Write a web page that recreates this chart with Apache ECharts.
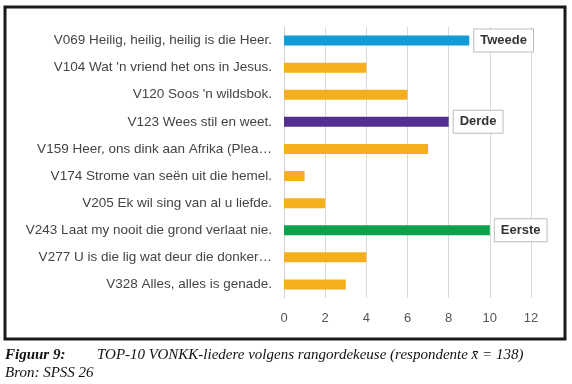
<!DOCTYPE html>
<html>
<head>
<meta charset="utf-8">
<script src="https://cdn.jsdelivr.net/npm/echarts@6/dist/echarts.min.js"></script>
<style>html,body{margin:0;padding:0;background:#fff}#c{width:572px;height:384px}</style>
</head>
<body>
<div id="c"></div>
<script>
const categories = [
  'V069 Heilig, heilig, heilig is die Heer.',
  'V104 Wat \'n vriend het ons in Jesus.',
  'V120 Soos \'n wildsbok.',
  'V123 Wees stil en weet.',
  'V159 Heer, ons dink aan Afrika (Plea\u2026',
  'V174 Strome van seën uit die hemel.',
  'V205 Ek wil sing van al u liefde.',
  'V243 Laat my nooit die grond verlaat nie.',
  'V277 U is die lig wat deur die donker\u2026',
  'V328 Alles, alles is genade.'
];
const values = [9, 4, 6, 8, 7, 1, 2, 10, 4, 3];
const barColors = ['#119BD7', '#F5AF1E', '#F5AF1E', '#51308F', '#F5AF1E', '#F5AF1E', '#F5AF1E', '#0BA04C', '#F5AF1E', '#F5AF1E'];
const ranks = ['Tweede', '', '', 'Derde', '', '', '', 'Eerste', '', ''];
const xTicks = [0, 2, 4, 6, 8, 10, 12];

const chart = echarts.init(document.getElementById('c'));
const data = values.map((v, i) => ({
  value: v,
  itemStyle: { color: barColors[i] },
  label: ranks[i] ? {
    show: true, position: 'right', distance: 5, formatter: ranks[i],
    backgroundColor: '#fff', borderColor: '#bdbdbd', borderWidth: 1,
    padding: [4, 6, 4, 6], fontWeight: 'bold', fontSize: 13, lineHeight: 14,
    color: '#333', fontFamily: 'Liberation Sans, Arial, sans-serif'
  } : { show: false }
}));

const capStyle = { fontFamily: 'Liberation Serif', fontStyle: 'italic', fontWeight: 'normal', fontSize: 15, color: '#111' };
chart.setOption({
  animation: false,
  backgroundColor: '#fff',
  title: [
    { text: 'Figuur 9:', left: 5, top: 348, padding: 0, textStyle: Object.assign({}, capStyle, { fontWeight: 'bold' }) },
    { text: 'TOP-10 VONKK-liedere volgens rangordekeuse (respondente x\u0304 = 138)', left: 97, top: 348, padding: 0, textStyle: capStyle },
    { text: 'Bron: SPSS 26', left: 5, top: 366, padding: 0, textStyle: capStyle }
  ],
  graphic: [{
    type: 'rect', z: 100, silent: true,
    shape: { x: 5, y: 7, width: 560, height: 332 },
    style: { fill: 'none', stroke: '#1a1a1a', lineWidth: 3 }
  }],
  grid: { left: 284, right: 41, top: 27, bottom: 86 },
  xAxis: {
    type: 'value', min: xTicks[0], max: xTicks[xTicks.length - 1], interval: 2,
    axisLine: { show: false }, axisTick: { show: false },
    axisLabel: { color: '#555', fontSize: 13, margin: 14, fontFamily: 'Liberation Sans, Arial, sans-serif' },
    splitLine: { lineStyle: { color: '#d9d9d9', width: 1 } }
  },
  yAxis: {
    type: 'category', data: categories, inverse: true,
    axisLine: { show: true, lineStyle: { color: '#d0d0d0' } }, axisTick: { show: false },
    axisLabel: { color: '#444', fontSize: 13.5, margin: 12, fontFamily: 'Liberation Sans, Arial, sans-serif' }
  },
  series: [{
    type: 'bar', data: data, barWidth: 10
  }]
});
</script>
</body>
</html>
